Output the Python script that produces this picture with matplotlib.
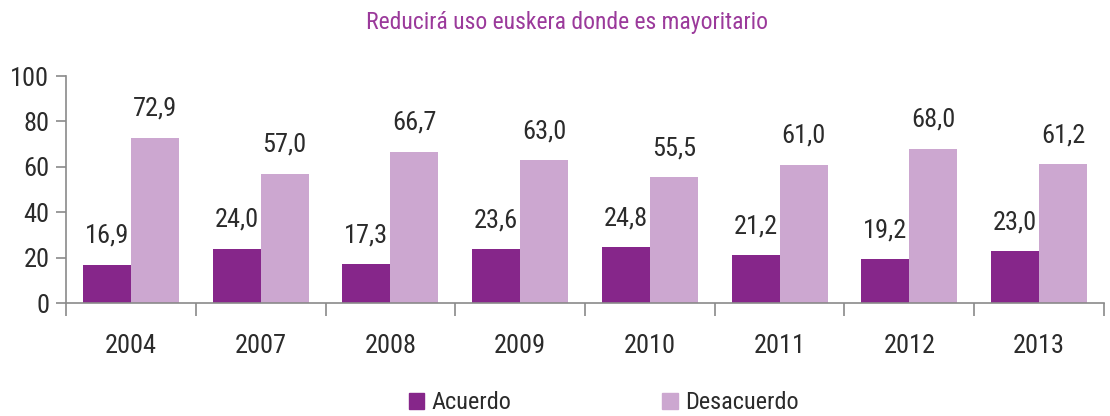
import numpy as np
import matplotlib.pyplot as plt
from matplotlib.patches import Patch

years = ["2004", "2007", "2008", "2009", "2010", "2011", "2012", "2013"]
acuerdo = [16.9, 24.0, 17.3, 23.6, 24.8, 21.2, 19.2, 23.0]
desacuerdo = [72.9, 57.0, 66.7, 63.0, 55.5, 61.0, 68.0, 61.2]

dark = "#86268A"
light = "#CCA7D0"
text_col = "#2b2b2b"
axis_col = "#8a8a8a"

plt.rcParams['font.family'] = ['Roboto Condensed', 'DejaVu Sans']

fig = plt.figure(figsize=(11.1, 4.16), dpi=100)
ax = fig.add_axes([0.0595, 0.2716, 0.935, 0.5457])

x = np.arange(len(years))
w = 0.37
b1 = ax.bar(x - w / 2, acuerdo, w, color=dark)
b2 = ax.bar(x + w / 2, desacuerdo, w, color=light)

def fmt(v):
    return f"{v:.1f}".replace(".", ",")

for rects, vals in ((b1, acuerdo), (b2, desacuerdo)):
    for r, v in zip(rects, vals):
        ax.annotate(fmt(v), (r.get_x() + r.get_width() / 2, v),
                    xytext=(0, 12), textcoords="offset points",
                    ha="center", va="bottom", fontsize=19, color=text_col)

ax.set_xlim(-0.5, len(years) - 0.5)
ax.set_ylim(0, 100)
ax.set_yticks(range(0, 101, 20))
ax.set_xticks(x)
ax.set_xticklabels(years)
ax.set_xticks(np.arange(-0.5, len(years)), minor=True)

for s in ("top", "right"):
    ax.spines[s].set_visible(False)
for s in ("left", "bottom"):
    ax.spines[s].set_color(axis_col)
    ax.spines[s].set_linewidth(1.2)

ax.tick_params(axis="y", length=7, color=axis_col, width=1.2,
               labelsize=19, labelcolor=text_col, pad=5)
ax.tick_params(axis="x", which="major", length=0, labelsize=19,
               labelcolor=text_col, pad=22)
ax.tick_params(axis="x", which="minor", length=9, color=axis_col, width=1.2)

fig.text(0.511, 0.945, "Reducirá uso euskera donde es mayoritario",
         ha="center", va="center", fontsize=17, color="#9B3A9B")

handles = [Patch(color=dark, label="Acuerdo"), Patch(color=light, label="Desacuerdo")]
fig.legend(handles=handles, loc="center", bbox_to_anchor=(0.544, 0.032),
           ncol=2, frameon=False, fontsize=17.5, handlelength=0.65,
           handleheight=0.65, handletextpad=0.3, columnspacing=6.2,
           labelcolor=text_col)

fig.savefig("out.png", dpi=100)
